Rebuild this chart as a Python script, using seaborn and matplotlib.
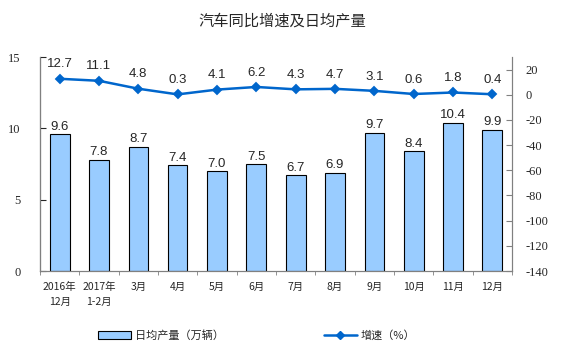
import numpy as np
import pandas as pd
import matplotlib
matplotlib.use("Agg")
import matplotlib.pyplot as plt
import seaborn as sns
from matplotlib.lines import Line2D
from matplotlib.patches import Patch

# data
months = ["2016年\n12月", "2017年\n1-2月", "3月", "4月", "5月", "6月",
          "7月", "8月", "9月", "10月", "11月", "12月"]
daily_output = [9.6, 7.8, 8.7, 7.4, 7.0, 7.5, 6.7, 6.9, 9.7, 8.4, 10.4, 9.9]
growth = [12.7, 11.1, 4.8, 0.3, 4.1, 6.2, 4.3, 4.7, 3.1, 0.6, 1.8, 0.4]

df = pd.DataFrame({"month": months, "output": daily_output, "growth": growth})

sns.set_style("white")
plt.rcParams['font.family'] = ['Noto Sans CJK SC', 'DejaVu Sans']
plt.rcParams['axes.unicode_minus'] = False

bar_color = "#99CCFF"
line_color = "#0066CC"
num_font = "Liberation Serif"

fig = plt.figure(figsize=(5.64, 3.51), dpi=100)
ax = fig.add_axes([40 / 564, 80 / 351, 472 / 564, 214 / 351])

sns.barplot(data=df, x="month", y="output", color=bar_color, edgecolor="black",
            linewidth=0.8, width=0.5, saturation=1, ax=ax)
ax.set_ylim(0, 15)
ax.set_yticks([0, 5, 10, 15])
ax.set_xlabel("")
ax.set_ylabel("")
for c in ax.containers:
    ax.bar_label(c, fmt="%.1f", padding=1, fontsize=9.5, family="Liberation Sans")

ax2 = ax.twinx()
sns.pointplot(data=df, x="month", y="growth", color=line_color, markers="D",
              markersize=4, linewidth=1.8, ax=ax2)
ax2.set_ylim(-140, 30)
ax2.set_yticks(np.arange(-140, 21, 20))
ax2.set_ylabel("")
for i, v in enumerate(growth):
    ax2.annotate(f"{v:.1f}", (i, v), xytext=(0, 6), textcoords="offset points",
                 ha="center", va="bottom", fontsize=9.5, family="Liberation Sans")

for a in (ax, ax2):
    for s in a.spines.values():
        s.set_color("#808080")
        s.set_linewidth(0.8)
ax.spines["top"].set_visible(False)
ax2.spines["top"].set_visible(False)
ax.spines["left"].set_color("black")

ax.tick_params(axis="y", direction="in", length=4, labelsize=9, pad=14, left=True)
ax2.tick_params(axis="y", direction="in", length=4, labelsize=9, pad=10, right=True,
                color="#808080")
for lab in ax.get_yticklabels() + ax2.get_yticklabels():
    lab.set_family(num_font)
ax.tick_params(axis="x", length=0, labelsize=7.5, pad=8)
ax.set_xticks(np.arange(-0.5, len(months), 1), minor=True)
ax.tick_params(axis="x", which="minor", direction="out", length=3, color="#808080", bottom=True)
ax.set_xlim(-0.5, len(months) - 0.5)
for lab in ax.get_xticklabels():
    lab.set_linespacing(1.6)

fig.suptitle("汽车同比增速及日均产量", y=0.965, fontsize=11)

handles = [Patch(facecolor=bar_color, edgecolor="black", linewidth=0.8, label="日均产量（万辆）"),
           Line2D([0], [0], color=line_color, marker="D", markersize=4, linewidth=1.8,
                  label="增速（%）")]
fig.legend(handles=handles, loc="lower left", bbox_to_anchor=(88 / 564, 0.0), ncol=2,
           frameon=False, fontsize=8, columnspacing=9, handlelength=3,
           handletextpad=0.3)

fig.savefig("out.png", dpi=100)
